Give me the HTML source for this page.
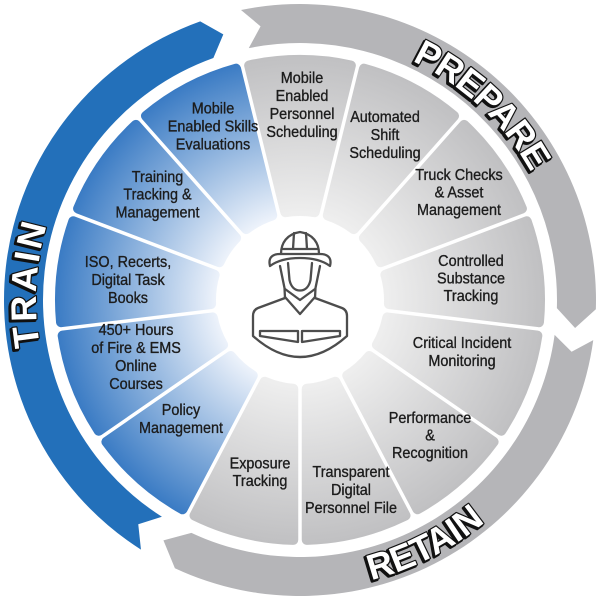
<!DOCTYPE html>
<html>
<head>
<meta charset="utf-8">
<style>
html,body{margin:0;padding:0;background:#fff;width:600px;height:600px;overflow:hidden}
svg{display:block}
</style>
</head>
<body>
<svg width="600" height="600" viewBox="0 0 600 600" xmlns="http://www.w3.org/2000/svg">
<defs>
  <radialGradient id="gb" gradientUnits="userSpaceOnUse" cx="300" cy="300" r="245">
    <stop offset="0.34" stop-color="#eef3fb"/>
    <stop offset="1" stop-color="#3a7bc4"/>
  </radialGradient>
  <radialGradient id="gg" gradientUnits="userSpaceOnUse" cx="300" cy="300" r="245">
    <stop offset="0.34" stop-color="#efefef"/>
    <stop offset="1" stop-color="#c0c0c2"/>
  </radialGradient>
  <path id="seg" d="M285.32,212.22 L249.14,65.45 A240 240 0 0 1 350.86,65.45 L314.68,212.22 A89 89 0 0 0 285.32,212.22 Z" stroke-width="10" stroke-linejoin="round"/>
  <path id="pT" d="M102.27,474.93 A264 264 0 0 1 125.07,102.27" fill="none"/>
  <path id="pP" d="M290.79,36.16 A264 264 0 0 1 563.84,290.79" fill="none"/>
  <path id="pR" d="M210.69,574.86 A289 289 0 0 0 574.86,389.31" fill="none"/>
</defs>

<rect width="600" height="600" fill="#fff"/>

<!-- outer ring arrows -->
<path d="M161.91,516.75 L138.26,524.26 L140.96,549.64 A296 296 0 0 1 200.22,21.32 L223.32,34.34 L213.37,58.04 A257 257 0 0 0 161.91,516.75 Z" fill="#2370ba"/>
<path d="M248.76,48.16 L260.56,26.33 L240.99,9.94 A296 296 0 0 1 595.85,309.30 L575.08,327.94 L556.87,308.07 A257 257 0 0 0 248.76,48.16 Z" fill="#b5b5b8"/>
<path d="M554.62,334.88 L571.60,351.81 L593.26,340.17 A296 296 0 0 1 174.90,568.27 L163.43,540.41 L191.39,532.92 A257 257 0 0 0 554.62,334.88 Z" fill="#b5b5b8"/>

<!-- segments -->
<use href="#seg" fill="url(#gg)" stroke="url(#gg)" transform="rotate(0 300 300)"/>
<use href="#seg" fill="url(#gg)" stroke="url(#gg)" transform="rotate(27.6923 300 300)"/>
<use href="#seg" fill="url(#gg)" stroke="url(#gg)" transform="rotate(55.3846 300 300)"/>
<use href="#seg" fill="url(#gg)" stroke="url(#gg)" transform="rotate(83.0769 300 300)"/>
<use href="#seg" fill="url(#gg)" stroke="url(#gg)" transform="rotate(110.7692 300 300)"/>
<use href="#seg" fill="url(#gg)" stroke="url(#gg)" transform="rotate(138.4615 300 300)"/>
<use href="#seg" fill="url(#gg)" stroke="url(#gg)" transform="rotate(166.1538 300 300)"/>
<use href="#seg" fill="url(#gg)" stroke="url(#gg)" transform="rotate(193.8462 300 300)"/>
<use href="#seg" fill="url(#gb)" stroke="url(#gb)" transform="rotate(221.5385 300 300)"/>
<use href="#seg" fill="url(#gb)" stroke="url(#gb)" transform="rotate(249.2308 300 300)"/>
<use href="#seg" fill="url(#gb)" stroke="url(#gb)" transform="rotate(276.9231 300 300)"/>
<use href="#seg" fill="url(#gb)" stroke="url(#gb)" transform="rotate(304.6154 300 300)"/>
<use href="#seg" fill="url(#gb)" stroke="url(#gb)" transform="rotate(332.3077 300 300)"/>

<!-- segment labels -->
<g font-family="'Liberation Sans', Arial, sans-serif" font-size="16" fill="#1c1c1c" stroke="#1c1c1c" stroke-width="0.35" text-anchor="middle">
  <text transform="translate(302,0) scale(0.9,1)"><tspan x="0" y="83">Mobile</tspan><tspan x="0" y="101">Enabled</tspan><tspan x="0" y="119">Personnel</tspan><tspan x="0" y="137">Scheduling</tspan></text>
  <text transform="translate(385,0) scale(0.9,1)"><tspan x="0" y="122">Automated</tspan><tspan x="0" y="140">Shift</tspan><tspan x="0" y="158">Scheduling</tspan></text>
  <text transform="translate(459,0) scale(0.9,1)"><tspan x="0" y="180">Truck Checks</tspan><tspan x="0" y="197.5">&amp; Asset</tspan><tspan x="0" y="215">Management</tspan></text>
  <text transform="translate(471,0) scale(0.9,1)"><tspan x="0" y="266">Controlled</tspan><tspan x="0" y="283.5">Substance</tspan><tspan x="0" y="301">Tracking</tspan></text>
  <text transform="translate(462,0) scale(0.9,1)"><tspan x="0" y="348">Critical Incident</tspan><tspan x="0" y="366">Monitoring</tspan></text>
  <text transform="translate(430,0) scale(0.9,1)"><tspan x="0" y="423">Performance</tspan><tspan x="0" y="440.5">&amp;</tspan><tspan x="0" y="458">Recognition</tspan></text>
  <text transform="translate(351,0) scale(0.9,1)"><tspan x="0" y="477">Transparent</tspan><tspan x="0" y="495">Digital</tspan><tspan x="0" y="513">Personnel File</tspan></text>
  <text transform="translate(260,0) scale(0.9,1)"><tspan x="0" y="468.5">Exposure</tspan><tspan x="0" y="486">Tracking</tspan></text>
  <text transform="translate(181,0) scale(0.9,1)"><tspan x="0" y="415">Policy</tspan><tspan x="0" y="433">Management</tspan></text>
  <text transform="translate(136,0) scale(0.9,1)"><tspan x="0" y="335">450+ Hours</tspan><tspan x="0" y="353">of Fire &amp; EMS</tspan><tspan x="0" y="371">Online</tspan><tspan x="0" y="389">Courses</tspan></text>
  <text transform="translate(128,0) scale(0.9,1)"><tspan x="0" y="267">ISO, Recerts,</tspan><tspan x="0" y="285">Digital Task</tspan><tspan x="0" y="303">Books</tspan></text>
  <text transform="translate(157.5,0) scale(0.9,1)"><tspan x="0" y="182">Training</tspan><tspan x="0" y="199.5">Tracking &amp;</tspan><tspan x="0" y="217.5">Management</tspan></text>
  <text transform="translate(213,0) scale(0.9,1)"><tspan x="0" y="113.5">Mobile</tspan><tspan x="0" y="131.5">Enabled Skills</tspan><tspan x="0" y="149.5">Evaluations</tspan></text>
</g>

<!-- ring labels: shadow -->
<g font-family="'Liberation Sans', Arial, sans-serif" font-weight="bold" font-size="36" text-anchor="middle" fill="#111" stroke="#111" stroke-width="3" stroke-linejoin="round" transform="translate(-1.5,1.5)">
  <text letter-spacing="3"><textPath href="#pT" startOffset="50%">TRAIN</textPath></text>
  <text letter-spacing="-1"><textPath href="#pP" startOffset="50%">PREPARE</textPath></text>
  <text letter-spacing="-0.5"><textPath href="#pR" startOffset="50%">RETAIN</textPath></text>
</g>
<!-- ring labels: main -->
<g font-family="'Liberation Sans', Arial, sans-serif" font-weight="bold" font-size="36" text-anchor="middle" fill="#ffffff" stroke="#111" stroke-width="2.4" stroke-linejoin="round" paint-order="stroke">
  <text letter-spacing="3"><textPath href="#pT" startOffset="50%">TRAIN</textPath></text>
  <text letter-spacing="-1"><textPath href="#pP" startOffset="50%">PREPARE</textPath></text>
  <text letter-spacing="-0.5"><textPath href="#pR" startOffset="50%">RETAIN</textPath></text>
</g>

<!-- firefighter icon -->
<g fill="none" stroke="#4d4d4d" stroke-width="2.3" stroke-linejoin="round" stroke-linecap="round">
  <path d="M281,254 C281,243 287,234 300,232 C313,234 319,243 319,254"/>
  <path d="M294,233 L293,249 M306,233 L307,249 M283,249 L317,249"/>
  <path d="M270,266 C268,258 272,254 280,254 L320,254 C328,254 332,258 330,266 C322,260 312,258 300,258 C288,258 278,260 270,266 Z"/>
  <path d="M288,263 L289.5,280 C291,287 295,290.5 300,290.5 C305,290.5 309,287 310.5,280 L312,263"/>
  <path d="M280,266 L284.5,288 L285,298 M320,266 L315.5,288 L315,298"/>
  <path d="M285,297 L300,314 L315,297"/>
  <path d="M285,289 L300,300 L315,289"/>
  <path d="M285,298 L258,308 Q253,310 253,316 L253,336 Q300,378 347,336 L347,316 Q347,310 342,308 L315,298"/>
  <path d="M260,331 L298,331 L298,342 L260,336 Z"/>
  <path d="M302,331 L340,331 L340,336 L302,342 Z"/>
</g>
</svg>
</body>
</html>
